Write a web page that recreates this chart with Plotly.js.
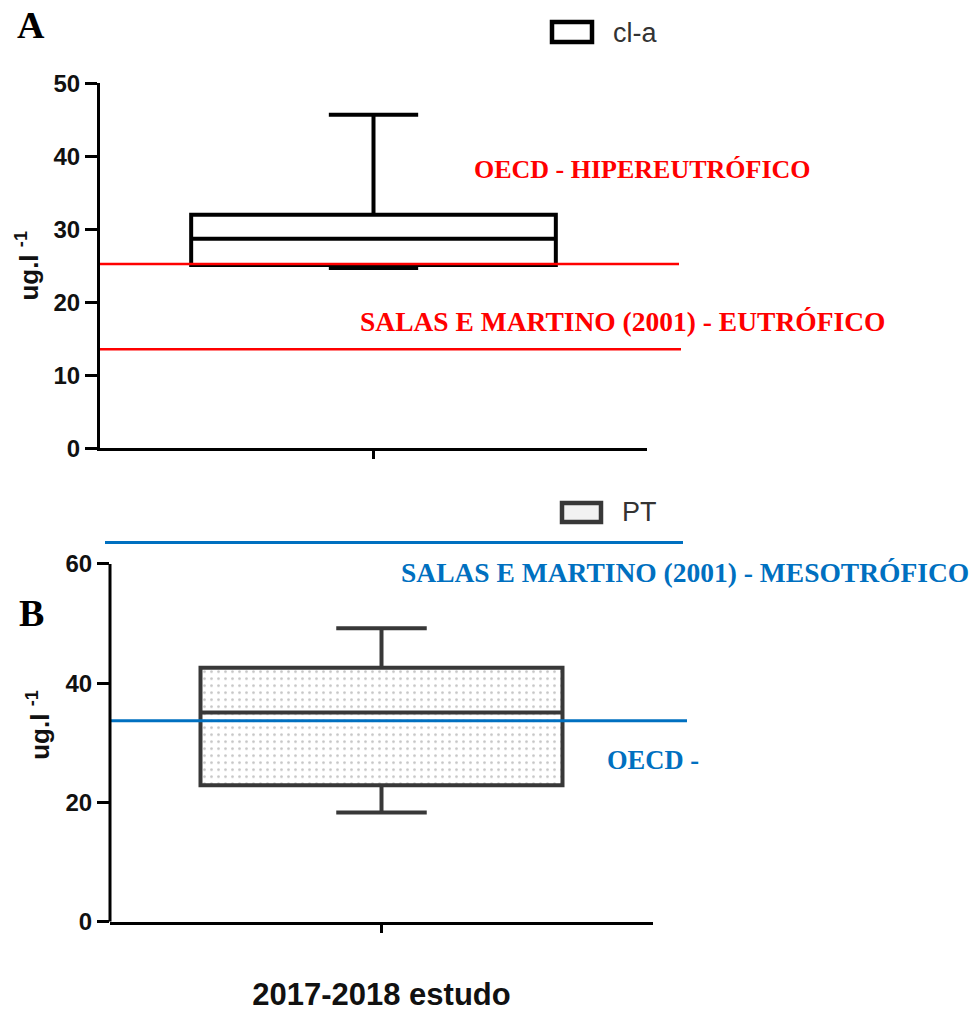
<!DOCTYPE html>
<html>
<head>
<meta charset="utf-8">
<script src="https://cdn.plot.ly/plotly-3.0.1.min.js"></script>
<style>html,body{margin:0;padding:0;background:#fff;}#chart{width:980px;height:1023px;}</style>
</head>
<body>
<div id="chart"></div>
<script>
// ---- Data ----
const categories = ["2017-2018 estudo"];
// Panel A: chlorophyll-a (ug.l-1)
const clLower = [24.7];
const clQ1 = [25.1];
const clMedian = [28.7];
const clQ3 = [32.0];
const clUpper = [45.7];
const clThresholds = [25.25, 13.56];
const clThresholdLabels = ["OECD - HIPEREUTRÓFICO", "SALAS E MARTINO (2001) - EUTRÓFICO"];
// Panel B: total phosphorus (ug.l-1)
const ptLower = [18.3];
const ptQ1 = [22.9];
const ptMedian = [35.1];
const ptQ3 = [42.6];
const ptUpper = [49.2];
const ptThresholds = [63.6, 33.7];
const ptThresholdLabels = ["SALAS E MARTINO (2001) - MESOTRÓFICO", "OECD -"];
const yTicksA = [0, 10, 20, 30, 40, 50];
const yTicksB = [0, 20, 40, 60];

const W = 980, H = 1023;
const px = v => v / W;
const py = v => 1 - v / H;
const pos = [0];

const boxA = {
  type: 'box', x: pos, q1: clQ1, median: clMedian, q3: clQ3,
  lowerfence: clLower, upperfence: clUpper, width: 1, whiskerwidth: 0.245,
  boxpoints: false, line: {color: '#000', width: 4}, fillcolor: 'rgba(255,255,255,0)',
  xaxis: 'x', yaxis: 'y', name: 'cl-a', showlegend: false, hoverinfo: 'skip'
};
const patB = {
  type: 'bar', x: pos, base: ptQ1, y: ptQ3.map((v, i) => v - ptQ1[i]), width: 1,
  marker: {color: '#ffffff', line: {width: 0},
    pattern: {shape: '.', fgcolor: '#c4c4c4', bgcolor: '#ffffff', size: 7, solidity: 0.12}},
  xaxis: 'x2', yaxis: 'y2', showlegend: false, hoverinfo: 'skip'
};
const boxB = {
  type: 'box', x: pos, q1: ptQ1, median: ptMedian, q3: ptQ3,
  lowerfence: ptLower, upperfence: ptUpper, width: 1, whiskerwidth: 0.25,
  boxpoints: false, line: {color: '#383838', width: 4}, fillcolor: 'rgba(255,255,255,0)',
  xaxis: 'x2', yaxis: 'y2', name: 'PT', showlegend: false, hoverinfo: 'skip'
};

const tickFont = {family: 'Liberation Sans, Arial, sans-serif', size: 24, color: '#111', weight: 'bold'};
const titleFont = {family: 'Liberation Sans, Arial, sans-serif', size: 26, color: '#111', weight: 'bold'};

const red = '#FF0000', blue = '#0070C0';
const serif = 'Liberation Serif, Times New Roman, serif';

const shapes = [
  // threshold lines panel A
  {type: 'line', layer: 'above', xref: 'paper', yref: 'y', x0: px(100), x1: px(679), y0: clThresholds[0], y1: clThresholds[0], line: {color: red, width: 2.5}},
  {type: 'line', layer: 'above', xref: 'paper', yref: 'y', x0: px(100), x1: px(681), y0: clThresholds[1], y1: clThresholds[1], line: {color: red, width: 2.5}},
  // threshold lines panel B
  {type: 'line', layer: 'above', xref: 'paper', yref: 'y2', x0: px(105), x1: px(683), y0: ptThresholds[0], y1: ptThresholds[0], line: {color: blue, width: 3}},
  {type: 'line', layer: 'above', xref: 'paper', yref: 'y2', x0: px(110), x1: px(687), y0: ptThresholds[1], y1: ptThresholds[1], line: {color: blue, width: 3}},
  // y axis line panel B (axis ends at top tick)
  {type: 'line', layer: 'above', xref: 'x2 domain', yref: 'y2', x0: 0, x1: 0, y0: 0, y1: yTicksB[yTicksB.length - 1], line: {color: '#000', width: 3}},
  // legend icons
  {type: 'rect', xref: 'paper', yref: 'paper', x0: px(552), x1: px(592), y0: py(42), y1: py(22), line: {color: '#000', width: 4.5}, fillcolor: '#fff'},
  {type: 'rect', xref: 'paper', yref: 'paper', x0: px(562), x1: px(601), y0: py(522), y1: py(503), line: {color: '#383838', width: 4.5}, fillcolor: '#f2f2f2'}
];

const annotations = [
  {text: 'A', xref: 'paper', yref: 'paper', x: px(31.5), y: py(25), xanchor: 'center', yanchor: 'middle', showarrow: false,
   font: {family: serif, size: 38, color: '#000', weight: 'bold'}},
  {text: 'B', xref: 'paper', yref: 'paper', x: px(31.5), y: py(613), xanchor: 'center', yanchor: 'middle', showarrow: false,
   font: {family: serif, size: 38, color: '#000', weight: 'bold'}},
  {text: clThresholdLabels[0], xref: 'paper', yref: 'paper', x: px(642), y: py(170), xanchor: 'center', yanchor: 'middle', showarrow: false,
   font: {family: serif, size: 26, color: red, weight: 'bold'}},
  {text: clThresholdLabels[1], xref: 'paper', yref: 'paper', x: px(622.5), y: py(322), xanchor: 'center', yanchor: 'middle', showarrow: false,
   font: {family: serif, size: 27.5, color: red, weight: 'bold'}},
  {text: ptThresholdLabels[0], xref: 'paper', yref: 'paper', x: px(684.5), y: py(572), xanchor: 'center', yanchor: 'middle', showarrow: false,
   font: {family: serif, size: 27.5, color: blue, weight: 'bold'}},
  {text: ptThresholdLabels[1], xref: 'paper', yref: 'paper', x: px(652.5), y: py(760), xanchor: 'center', yanchor: 'middle', showarrow: false,
   font: {family: serif, size: 26.5, color: blue, weight: 'bold'}},
  {text: 'cl-a', xref: 'paper', yref: 'paper', x: px(611), y: py(33), xanchor: 'left', yanchor: 'middle', showarrow: false,
   font: {family: 'Liberation Sans, Arial, sans-serif', size: 27, color: '#333'}},
  {text: 'PT', xref: 'paper', yref: 'paper', x: px(620), y: py(512), xanchor: 'left', yanchor: 'middle', showarrow: false,
   font: {family: 'Liberation Sans, Arial, sans-serif', size: 27, color: '#333'}}
];

const layout = {
  width: W, height: H,
  margin: {l: 0, r: 0, t: 0, b: 0},
  paper_bgcolor: '#fff', plot_bgcolor: 'rgba(0,0,0,0)',
  showlegend: false,
  xaxis: {domain: [px(100), px(647)], anchor: 'y', range: [-0.75, 0.75], tickvals: pos,
    showticklabels: false, ticks: 'outside', ticklen: 8, tickwidth: 3, tickcolor: '#000',
    showline: true, linewidth: 3, linecolor: '#000', showgrid: false, zeroline: false, fixedrange: true},
  yaxis: {domain: [py(448.3), py(83.3)], anchor: 'x', range: [0, 50], tickvals: yTicksA,
    ticks: 'outside', ticklen: 12, tickwidth: 3, tickcolor: '#000', tickfont: tickFont,
    showline: true, linewidth: 3, linecolor: '#000', showgrid: false, zeroline: false,
    title: {text: 'ug.l <sup>-1</sup>', font: titleFont, standoff: 8}},
  xaxis2: {domain: [px(110), px(653)], anchor: 'y2', range: [-0.75, 0.75], tickvals: pos,
    showticklabels: false, ticks: 'outside', ticklen: 8, tickwidth: 3, tickcolor: '#000',
    showline: true, linewidth: 3, linecolor: '#000', showgrid: false, zeroline: false,
    title: {text: categories[0], font: {family: 'Liberation Sans, Arial, sans-serif', size: 31, color: '#111', weight: 'bold'}, standoff: 52}},
  yaxis2: {domain: [py(921.7), py(528.2)], anchor: 'x2', range: [0, 66], tickvals: yTicksB,
    ticks: 'outside', ticklen: 12, tickwidth: 3, tickcolor: '#000', tickfont: tickFont,
    showline: false, showgrid: false, zeroline: false,
    title: {text: 'ug.l <sup>-1</sup>', font: titleFont, standoff: 8}},
  shapes: shapes,
  annotations: annotations
};

Plotly.newPlot('chart', [boxA, patB, boxB], layout, {staticPlot: true, displayModeBar: false});
</script>
</body>
</html>
